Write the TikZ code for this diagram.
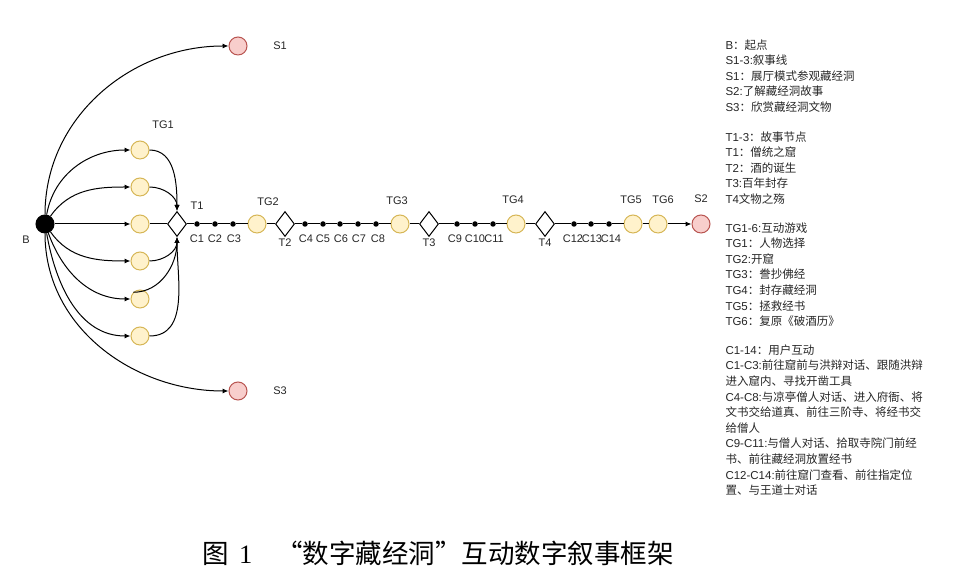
\documentclass[tikz,border=0pt]{standalone}
\usepackage{fontspec}
\setmainfont{Liberation Sans}
\newfontfamily\cjk{Noto Sans CJK SC}
\newfontfamily\capserif{Liberation Serif}
\usetikzlibrary{shapes.geometric,arrows.meta}
\definecolor{tgfill}{HTML}{FFF2CC}
\definecolor{tgline}{HTML}{D6B656}
\definecolor{sfill}{HTML}{F8CECC}
\definecolor{sline}{HTML}{B85450}

\begin{document}
\begin{tikzpicture}[x=1pt, y=1pt, line width=1pt,
  bnode/.style={draw, circle, fill=black, minimum size=18pt, inner sep=0pt},
  tgnode/.style={draw=tgline, circle, fill=tgfill, minimum size=18pt, inner sep=0pt},
  snode/.style={draw=sline, circle, fill=sfill, minimum size=18pt, inner sep=0pt},
  tnode/.style={draw, diamond, fill=white, minimum width=19pt, minimum height=25pt, inner sep=0pt},
  cdot/.style={circle, fill=black, minimum size=5.5pt, inner sep=0pt},
  lab/.style={font=\fontsize{11}{13}\selectfont, text=black!85, inner sep=0pt},
  legend/.style={anchor=north west, align=left, inner sep=0pt, text=black!85, font=\fontsize{11.5}{15.6}\selectfont},
  arr/.style={-{Latex[length=6pt, width=5pt]}}]
\useasboundingbox (0,0) rectangle (960,577);

% Start point
\node[bnode] (b) at (45,353) {};

% Story lines
\node[snode] (s1) at (238,531) {};
\node[snode] (s2) at (701,353) {};
\node[snode] (s3) at (238,186) {};

% Games of TG1
\node[tgnode] (tg1_1) at (140,427) {};
\node[tgnode] (tg1_2) at (140,390) {};
\node[tgnode] (tg1_3) at (140,353) {};
\node[tgnode] (tg1_4) at (140,316) {};
\node[tgnode] (tg1_5) at (140,278) {};
\node[tgnode] (tg1_6) at (140,241) {};

% Story nodes
\node[tnode] (t1) at (177,353) {};
\node[tnode] (t2) at (285,353) {};
\node[tnode] (t3) at (429,353) {};
\node[tnode] (t4) at (545,353) {};

% Other games
\node[tgnode] (tg2) at (257,353) {};
\node[tgnode] (tg3) at (400,353) {};
\node[tgnode] (tg4) at (516,353) {};
\node[tgnode] (tg5) at (633,353) {};
\node[tgnode] (tg6) at (658,353) {};

% User interactions
\node[cdot] (c1) at (197,353) {};
\node[cdot] (c2) at (215,353) {};
\node[cdot] (c3) at (233,353) {};
\node[cdot] (c4) at (305,353) {};
\node[cdot] (c5) at (323,353) {};
\node[cdot] (c6) at (340,353) {};
\node[cdot] (c7) at (358,353) {};
\node[cdot] (c8) at (376,353) {};
\node[cdot] (c9) at (457,353) {};
\node[cdot] (c10) at (475,353) {};
\node[cdot] (c11) at (493,353) {};
\node[cdot] (c12) at (574,353) {};
\node[cdot] (c13) at (591,353) {};
\node[cdot] (c14) at (609,353) {};

% Arrows from the start point
\draw[arr] (b) to[out=90, in=180] (s1);
\draw[arr] (b) to[out=80, in=180] (tg1_1);
\draw[arr] (b) to[out=55, in=180] (tg1_2);
\draw[arr] (b) -- (tg1_3);
\draw[arr] (b) to[out=-55, in=180] (tg1_4);
\draw[arr] (b) to[out=-70, in=180] (tg1_5);
\draw[arr] (b) to[out=-80, in=180] (tg1_6);
\draw[arr] (b) to[out=-90, in=180] (s3);

% Arrows into T1
\draw[arr] (tg1_1) to[out=0, in=90] (t1);
\draw[arr] (tg1_2) to[out=0, in=90] (t1);
\draw (tg1_3) -- (t1);
\draw[arr] (tg1_4) to[out=0, in=-90] (t1);
\draw[arr] (tg1_5.135) to[out=0, in=-90] (t1);
\draw[arr] (tg1_6) to[out=0, in=-90] (t1);

% Main line
\draw[arr] (t1) -- (c1) -- (c2) -- (c3) -- (tg2) -- (t2) -- (c4) -- (c5) -- (c6) -- (c7) -- (c8)
  -- (tg3) -- (t3) -- (c9) -- (c10) -- (c11) -- (tg4) -- (t4) -- (c12) -- (c13) -- (c14)
  -- (tg5) -- (tg6) -- (s2);

% Labels
\node[lab] (lab_b) at (26,337) {B};
\node[lab] (lab_s1) at (280,531) {S1};
\node[lab] (lab_s2) at (701,378) {S2};
\node[lab] (lab_s3) at (280,186) {S3};
\node[lab] (lab_tg1) at (163,452) {TG1};
\node[lab] (lab_t1) at (197,371) {T1};
\node[lab] (lab_t2) at (285,334) {T2};
\node[lab] (lab_t3) at (429,334) {T3};
\node[lab] (lab_t4) at (545,334) {T4};
\node[lab] (lab_tg2) at (268,375) {TG2};
\node[lab] (lab_tg3) at (397,376) {TG3};
\node[lab] (lab_tg4) at (513,377) {TG4};
\node[lab] (lab_tg5) at (631,377) {TG5};
\node[lab] (lab_tg6) at (663,377) {TG6};
\node[lab] (lab_c1) at (197,338) {C1};
\node[lab] (lab_c2) at (215,338) {C2};
\node[lab] (lab_c3) at (234,338) {C3};
\node[lab] (lab_c4) at (306,338) {C4};
\node[lab] (lab_c5) at (323,338) {C5};
\node[lab] (lab_c6) at (341,338) {C6};
\node[lab] (lab_c7) at (359,338) {C7};
\node[lab] (lab_c8) at (378,338) {C8};
\node[lab] (lab_c9) at (455,338) {C9};
\node[lab] (lab_c10) at (475,338) {C10};
\node[lab] (lab_c11) at (494,338) {C11};
\node[lab] (lab_c12) at (573,338) {C12};
\node[lab] (lab_c13) at (592,338) {C13};
\node[lab] (lab_c14) at (611,338) {C14};

% Legend
\node[legend] (leg_s) at (725,538) {B{\cjk ：起点}\\
S1-3:{\cjk 叙事线}\\
S1{\cjk ：展厅模式参观藏经洞}\\
S2:{\cjk 了解藏经洞故事}\\
S3{\cjk ：欣赏藏经洞文物}};
\node[legend] (leg_t) at (725,446) {T1-3{\cjk ：故事节点}\\
T1{\cjk ：僧统之窟}\\
T2{\cjk ：酒的诞生}\\
T3:{\cjk 百年封存}\\
T4{\cjk 文物之殇}};
\node[legend] (leg_tg) at (725,355) {TG1-6:{\cjk 互动游戏}\\
TG1{\cjk ：人物选择}\\
TG2:{\cjk 开窟}\\
TG3{\cjk ：誊抄佛经}\\
TG4{\cjk ：封存藏经洞}\\
TG5{\cjk ：拯救经书}\\
TG6{\cjk ：复原《破酒历》}};
\node[legend] (leg_c) at (725,233) {C1-14{\cjk ：用户互动}\\
C1-C3:{\cjk 前往窟前与洪辩对话、跟随洪辩}\\
{\cjk 进入窟内、寻找开凿工具}\\
C4-C8:{\cjk 与凉亭僧人对话、进入府衙、将}\\
{\cjk 文书交给道真、前往三阶寺、将经书交}\\
{\cjk 给僧人}\\
C9-C11:{\cjk 与僧人对话、拾取寺院门前经}\\
{\cjk 书、前往藏经洞放置经书}\\
C12-C14:{\cjk 前往窟门查看、前往指定位}\\
{\cjk 置、与王道士对话}};

% Caption
\node[font=\fontsize{26.5}{30}\selectfont, inner sep=0pt, anchor=west] (caption) at (202,24)
  {{\cjk 图}\hspace{10pt}{\capserif 1}\hspace{24pt}{\cjk “数字藏经洞”互动数字叙事框架}};
\end{tikzpicture}
\end{document}
